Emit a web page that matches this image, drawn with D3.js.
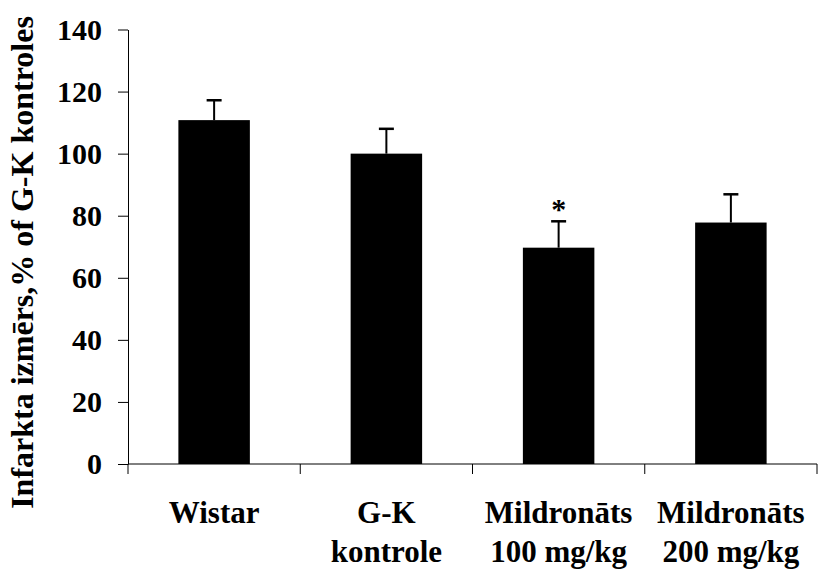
<!DOCTYPE html>
<html>
<head>
<meta charset="utf-8">
<script src="https://cdn.jsdelivr.net/npm/d3@7"></script>
<style>
  html, body { margin: 0; padding: 0; background: #fff; }
  svg { display: block; }
  text { font-family: "Liberation Serif", "Times New Roman", serif; font-weight: bold; fill: #000; }
</style>
</head>
<body>
<div id="chart"></div>
<script>
// Infarct size per group, % of G-K control (mean and upper error)
const categories = [
  ["Wistar"],
  ["G-K", "kontrole"],
  ["Mildronāts", "100 mg/kg"],
  ["Mildronāts", "200 mg/kg"]
];
const means  = [110.8, 100.0, 69.7, 77.8];
const errors = [6.4, 8.0, 8.5, 9.1];
const significant = [false, false, true, false];
const yTicks = [0, 20, 40, 60, 80, 100, 120, 140];
const yTitle = "Infarkta izmērs,% of G-K kontroles";

const W = 818, H = 569;
const margin = { top: 29.5, right: 1, bottom: 105, left: 128 };
const iw = W - margin.left - margin.right;
const ih = H - margin.top - margin.bottom;

const svg = d3.select("#chart").append("svg")
  .attr("width", W).attr("height", H);

const g = svg.append("g")
  .attr("transform", `translate(${margin.left},${margin.top})`);

const x = d3.scaleBand()
  .domain(d3.range(categories.length))
  .range([0, iw])
  .padding(0);

const y = d3.scaleLinear()
  .domain([0, 140])
  .range([ih, 0]);

const barW = x.bandwidth() * 0.415;

// y axis
const yAxis = g.append("g")
  .call(d3.axisLeft(y).tickValues(yTicks).tickSize(10).tickPadding(16).tickSizeOuter(0));
yAxis.select(".domain").attr("stroke", "#000").attr("stroke-width", 1);
yAxis.selectAll(".tick line").attr("stroke", "#000");
yAxis.selectAll(".tick text")
  .style("font-size", "30px")
  .attr("dy", "0.33em");

// x axis baseline with category separators
g.append("line")
  .attr("x1", 0).attr("x2", iw)
  .attr("y1", y(0)).attr("y2", y(0))
  .attr("stroke", "#000");
const seps = d3.range(categories.length + 1).map(i => i === categories.length ? iw : x(i));
g.selectAll(".sep").data(seps).join("line")
  .attr("class", "sep")
  .attr("x1", d => d).attr("x2", d => d)
  .attr("y1", y(0)).attr("y2", y(0) + 10)
  .attr("stroke", "#000");

// bars
g.selectAll(".bar").data(means).join("rect")
  .attr("class", "bar")
  .attr("x", (d, i) => x(i) + x.bandwidth() / 2 - barW / 2)
  .attr("y", d => y(d))
  .attr("width", barW)
  .attr("height", d => y(0) - y(d))
  .attr("fill", "#000");

// upper error bars
const eb = g.selectAll(".err").data(means).join("g").attr("class", "err");
eb.append("line")
  .attr("x1", (d, i) => x(i) + x.bandwidth() / 2)
  .attr("x2", (d, i) => x(i) + x.bandwidth() / 2)
  .attr("y1", d => y(d))
  .attr("y2", (d, i) => y(d + errors[i]))
  .attr("stroke", "#000").attr("stroke-width", 2);
eb.append("line")
  .attr("x1", (d, i) => x(i) + x.bandwidth() / 2 - 7.5)
  .attr("x2", (d, i) => x(i) + x.bandwidth() / 2 + 7.5)
  .attr("y1", (d, i) => y(d + errors[i]))
  .attr("y2", (d, i) => y(d + errors[i]))
  .attr("stroke", "#000").attr("stroke-width", 2.5);

// significance markers
g.selectAll(".sig").data(means.map((d, i) => ({ d, i })).filter(o => significant[o.i])).join("text")
  .attr("class", "sig")
  .attr("x", o => x(o.i) + x.bandwidth() / 2)
  .attr("y", o => y(o.d + errors[o.i]) - 2)
  .attr("text-anchor", "middle")
  .style("font-size", "30px")
  .text("*");

// category labels
const lab = g.selectAll(".cat").data(categories).join("text")
  .attr("class", "cat")
  .attr("text-anchor", "middle")
  .style("font-size", "31px");
lab.selectAll("tspan").data((d, i) => d.map(t => ({ t, i }))).join("tspan")
  .attr("x", o => x(o.i) + x.bandwidth() / 2)
  .attr("y", (o, j) => y(0) + 59 + j * 38.5)
  .text(o => o.t);

// y title
svg.append("text")
  .attr("transform", `translate(33,262.5) rotate(-90)`)
  .attr("text-anchor", "middle")
  .style("font-size", "32px")
  .text(yTitle);
</script>
</body>
</html>
